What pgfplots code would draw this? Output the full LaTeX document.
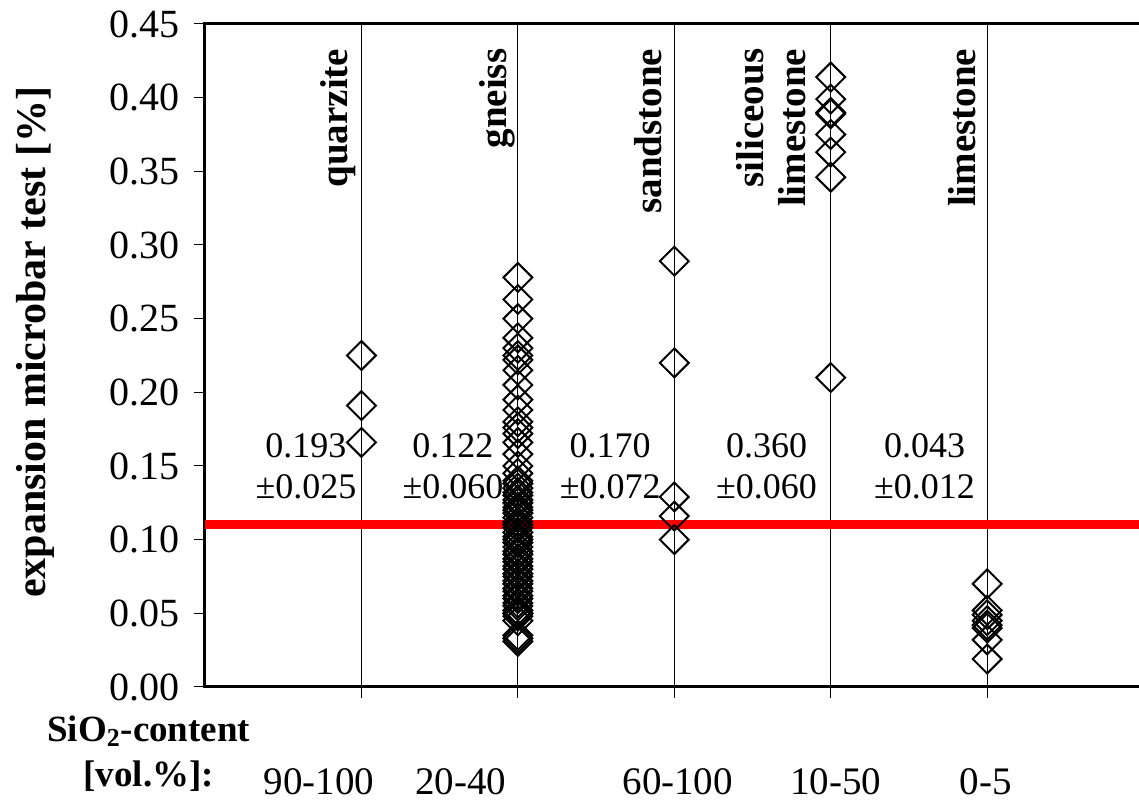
\documentclass[border=0pt]{standalone}
\usepackage{pgfplots}
\pgfplotsset{compat=1.18}
\usepackage{fontspec}
\setmainfont{Liberation Serif}

% expansion values per aggregate type (microbar test, %)
\pgfplotstableread{
x y
1 0.225
1 0.191
1 0.166
}\quarzite
\pgfplotstableread{
x y
2 0.278
2 0.263
2 0.250
2 0.237
2 0.230
2 0.225
2 0.222
2 0.215
2 0.205
2 0.195
2 0.188
2 0.180
2 0.176
2 0.172
2 0.166
2 0.158
2 0.150
2 0.145
2 0.140
2 0.138
2 0.135
2 0.132
2 0.130
2 0.127
2 0.125
2 0.122
2 0.120
2 0.118
2 0.115
2 0.112
2 0.110
2 0.108
2 0.105
2 0.102
2 0.100
2 0.098
2 0.095
2 0.092
2 0.090
2 0.087
2 0.085
2 0.082
2 0.080
2 0.077
2 0.075
2 0.072
2 0.070
2 0.067
2 0.065
2 0.062
2 0.060
2 0.057
2 0.055
2 0.052
2 0.050
2 0.050
2 0.048
2 0.045
2 0.035
2 0.033
2 0.031
}\gneiss
\pgfplotstableread{
x y
3 0.289
3 0.220
3 0.129
3 0.116
3 0.100
}\sandstone
\pgfplotstableread{
x y
4 0.414
4 0.399
4 0.390
4 0.389
4 0.375
4 0.363
4 0.346
4 0.210
}\silimestone
\pgfplotstableread{
x y
5 0.070
5 0.052
5 0.049
5 0.045
5 0.042
5 0.040
5 0.032
5 0.019
}\limestone

\begin{document}
\begin{tikzpicture}
\begin{axis}[
  name=ax,
  scale only axis,
  width=469.3pt, height=331.5pt,
  xmin=0, xmax=6, ymin=0, ymax=0.45,
  clip=false,
  axis line style={line width=1.5pt},
  xtick={1,2,3,4,5}, xticklabels={,,,,},
  ytick={0,0.05,0.10,0.15,0.20,0.25,0.30,0.35,0.40,0.45},
  xtick pos=left, ytick pos=left,
  tick align=outside,
  major tick length=5.5pt,
  tick style={black, line width=0.5pt},
  xmajorgrids,
  grid style={black, line width=0.5pt},
  yticklabel style={xshift=-3.5pt, /pgf/number format/.cd, fixed, fixed zerofill, precision=2, assume math mode=true},
  tick label style={font=\fontsize{20}{22}\selectfont},
  ylabel={\textbf{expansion microbar test [\%]}},
  ylabel style={font=\fontsize{21}{24}\selectfont, at={(axis description cs:-0.181,0.52)}, anchor=center},
]
% limit line at 0.11 %
\addplot[red, line width=4.5pt, forget plot] coordinates {(0,0.11) (6,0.11)};

\addplot[black, only marks, mark=square, mark size=5.1pt, mark options={rotate=45, solid, line width=1pt}] table[x=x, y=y] {\quarzite};
\addplot[black, only marks, mark=square, mark size=5.1pt, mark options={rotate=45, solid, line width=1pt}] table[x=x, y=y] {\gneiss};
\addplot[black, only marks, mark=square, mark size=5.1pt, mark options={rotate=45, solid, line width=1pt}] table[x=x, y=y] {\sandstone};
\addplot[black, only marks, mark=square, mark size=5.1pt, mark options={rotate=45, solid, line width=1pt}] table[x=x, y=y] {\silimestone};
\addplot[black, only marks, mark=square, mark size=5.1pt, mark options={rotate=45, solid, line width=1pt}] table[x=x, y=y] {\limestone};

% rock types
\node[rotate=90, anchor=east, font=\bfseries\fontsize{19.5}{21}\selectfont] at (axis cs:0.85,0.438) {quarzite};
\node[rotate=90, anchor=east, font=\bfseries\fontsize{19.5}{21}\selectfont] at (axis cs:1.87,0.438) {gneiss};
\node[rotate=90, anchor=east, font=\bfseries\fontsize{19.5}{21}\selectfont] at (axis cs:2.83,0.438) {sandstone};
\node[rotate=90, anchor=east, align=right, font=\bfseries\fontsize{19.5}{21}\selectfont] at (axis cs:3.62,0.438) {siliceous\\limestone};
\node[rotate=90, anchor=east, font=\bfseries\fontsize{19.5}{21}\selectfont] at (axis cs:4.84,0.438) {limestone};

% mean and standard deviation
\node[align=center, font=\fontsize{18}{20.5}\selectfont] at (axis cs:0.645,0.150) {0.193\\±0.025};
\node[align=center, font=\fontsize{18}{20.5}\selectfont] at (axis cs:1.585,0.150) {0.122\\±0.060};
\node[align=center, font=\fontsize{18}{20.5}\selectfont] at (axis cs:2.59,0.150) {0.170\\±0.072};
\node[align=center, font=\fontsize{18}{20.5}\selectfont] at (axis cs:3.59,0.150) {0.360\\±0.060};
\node[align=center, font=\fontsize{18}{20.5}\selectfont] at (axis cs:4.60,0.150) {0.043\\±0.012};

% SiO2 content per rock type
\node[font=\fontsize{19.5}{22}\selectfont] at (axis cs:0.728,-0.0645) {90-100};
\node[font=\fontsize{19.5}{22}\selectfont] at (axis cs:1.636,-0.0645) {20-40};
\node[font=\fontsize{19.5}{22}\selectfont] at (axis cs:3.022,-0.0645) {60-100};
\node[font=\fontsize{19.5}{22}\selectfont] at (axis cs:4.032,-0.0645) {10-50};
\node[font=\fontsize{19.5}{22}\selectfont] at (axis cs:4.99,-0.0645) {0-5};
\node[align=center, font=\bfseries\fontsize{18.5}{22.5}\selectfont] at (axis cs:-0.36,-0.045) {SiO\textsubscript{2}-content\\{}[vol.\%]:};
\end{axis}
\pgfresetboundingbox
\path[use as bounding box] ([shift={(-102.5pt,-57pt)}]ax.south west) rectangle ([shift={(467pt,343.5pt)}]ax.south west);
\end{tikzpicture}
\end{document}
